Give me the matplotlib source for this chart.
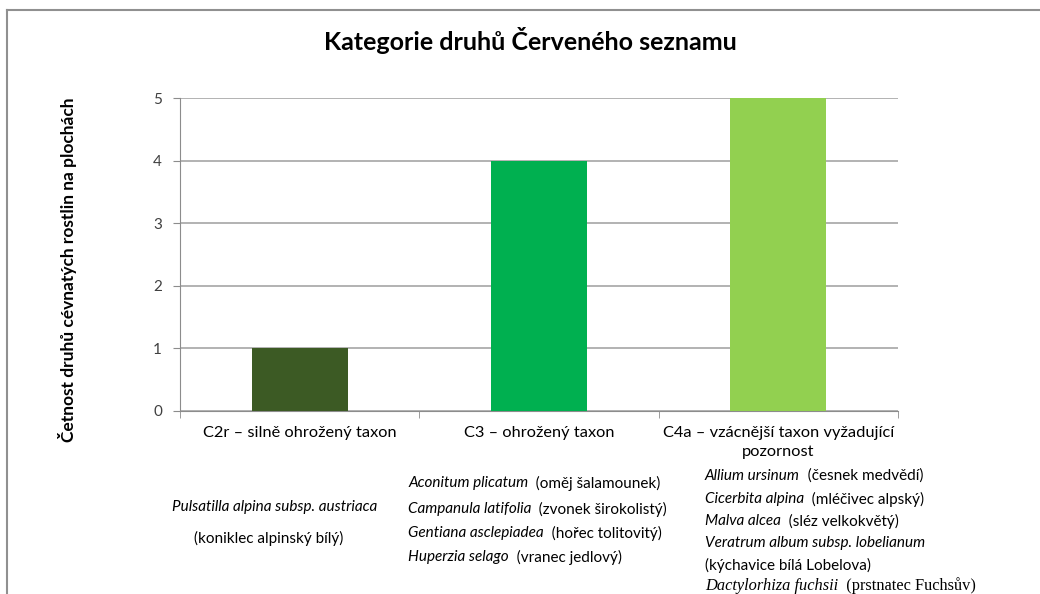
import matplotlib
matplotlib.use('Agg')
import matplotlib.pyplot as plt
from matplotlib.lines import Line2D

plt.rcParams['font.family'] = ['Lato', 'DejaVu Sans']

# data
categories = ['C2r – silně ohrožený taxon', 'C3 – ohrožený taxon',
              'C4a – vzácnější taxon vyžadující\npozornost']
values = [1, 4, 5]
colors = ['#3C5A24', '#00B050', '#92D050']

# species under each category: (latin name, czech name)
species_c2r = [('Pulsatilla alpina subsp. austriaca', ''), ('', '(koniklec alpinský bílý)')]
species_c3 = [('Aconitum plicatum', '(oměj šalamounek)'),
              ('Campanula latifolia', '(zvonek širokolistý)'),
              ('Gentiana asclepiadea', '(hořec tolitovitý)'),
              ('Huperzia selago', '(vranec jedlový)')]
species_c4a = [('Allium ursinum', '(česnek medvědí)'),
               ('Cicerbita alpina', '(mléčivec alpský)'),
               ('Malva alcea', '(sléz velkokvětý)'),
               ('Veratrum album subsp. lobelianum', ''),
               ('', '(kýchavice bílá Lobelova)'),
               ('Dactylorhiza fuchsii', '(prstnatec Fuchsův)')]

W, H = 1040, 594
fig = plt.figure(figsize=(W / 100, H / 100), dpi=100)


def px(x, y):
    return x / W, 1 - y / H


ax = fig.add_axes([180 / W, 1 - 411 / H, 718 / W, 313 / H])
ax.bar(range(len(values)), values, width=0.4, color=colors, zorder=3)
ax.set_xlim(-0.5, 2.5)
ax.set_ylim(0, 5)
ax.set_yticks(range(6))
ax.grid(axis='y', color='#a6a6a6', linewidth=1.2, zorder=0)
for s in ['top', 'right']:
    ax.spines[s].set_visible(False)
for s in ['left', 'bottom']:
    ax.spines[s].set_color('#8c8c8c')
ax.tick_params(axis='y', length=5, color='#8c8c8c', labelsize=11, labelcolor='#404040', pad=8)
ax.set_xticks(range(3))
ax.set_xticklabels(categories, fontsize=11.8, linespacing=1.45)
ax.set_xticks([-0.5, 0.5, 1.5, 2.5], minor=True)
ax.tick_params(axis='x', which='major', length=0, pad=11)
ax.tick_params(axis='x', which='minor', length=5, color='#8c8c8c')

fig.text(*px(530, 40), 'Kategorie druhů Červeného seznamu', ha='center', va='center',
         fontsize=18, fontweight='bold')
fig.text(*px(68, 270), 'Četnost druhů cévnatých rostlin na plochách', ha='center',
         va='center', rotation=90, fontsize=12.5, fontweight='bold')


def species_line(x, y, latin, czech, ha='left', serif=False):
    fam = ['Liberation Serif'] if serif else ['Lato', 'DejaVu Sans']
    size = 11.8 if serif else 11
    if latin:
        t = fig.text(*px(x, y), latin, ha=ha, va='center', fontstyle='italic',
                     fontsize=size, family=fam)
        if czech:
            ax.annotate('  ' + czech, xy=(1, 0.5), xycoords=t, va='center', ha='left',
                        fontsize=size, family=fam, annotation_clip=False)
    else:
        fig.text(*px(x, y), czech, ha=ha, va='center', fontsize=size, family=fam)


species_line(275, 507, species_c2r[0][0], '', ha='center')
species_line(269, 538, '', species_c2r[1][1], ha='center')

for (latin, czech), y in zip(species_c3, [483, 509, 533, 557]):
    species_line(408, y, latin, czech)

for i, ((latin, czech), y) in enumerate(zip(species_c4a, [476, 499, 521, 543, 565, 586])):
    species_line(705, y, latin, czech, serif=(i == 5))

# frame of the pasted picture
fig.add_artist(Line2D([7 / W, 1], [1 - 10 / H, 1 - 10 / H], color='#909090', lw=1.5))
fig.add_artist(Line2D([7 / W, 7 / W], [0, 1 - 10 / H], color='#909090', lw=1.5))

fig.savefig('out.png', dpi=100)
